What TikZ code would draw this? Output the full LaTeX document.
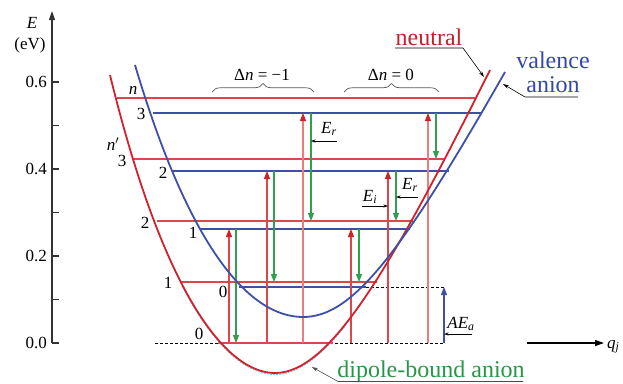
\documentclass[tikz,border=0pt]{standalone}
\usepackage{fontspec}
\setmainfont{Liberation Serif}
\usetikzlibrary{arrows.meta,decorations.pathreplacing}
\definecolor{nred}{RGB}{208,34,44}
\definecolor{lred}{RGB}{222,70,76}
\definecolor{pred}{RGB}{234,125,125}
\definecolor{vblue}{RGB}{62,80,165}
\definecolor{dgreen}{RGB}{48,160,78}
\definecolor{cyanl}{RGB}{120,200,225}
\definecolor{tred}{RGB}{196,32,46}
\definecolor{tblue}{RGB}{52,72,165}
\definecolor{tgreen}{RGB}{40,150,72}
\definecolor{axgray}{RGB}{50,50,50}
\begin{document}
\begin{tikzpicture}[x=1pt,y=-1pt,
  curve/.style={line width=1.8pt,line join=round},
  lvl/.style={line width=1.1pt},
  uparrow/.style={line width=1.1pt,-{Triangle[length=8pt,width=6pt]}},
  redtip/.style={-{Triangle[length=8pt,width=6pt,fill=nred,color=nred]}},
  lab/.style={font=\fontsize{17}{19}\selectfont,inner sep=0pt},
  big/.style={font=\fontsize{24}{27}\selectfont,inner sep=0pt},
  ptr/.style={line width=0.6pt,-{Stealth[length=6pt,width=3.5pt]}},
  smallptr/.style={line width=0.6pt,-{Stealth[length=4.5pt,width=3pt]}},
  dsh/.style={line width=0.7pt,dash pattern=on 3pt off 2pt}
]
\useasboundingbox (0,0) rectangle (623,383);

% ---------- levels (coordinates) ----------
\coordinate (R0) at (0,343);
\coordinate (R1) at (0,282);
\coordinate (R2) at (0,221);
\coordinate (R3) at (0,159);
\coordinate (Rn) at (0,98);
\coordinate (B0) at (0,287);
\coordinate (B1) at (0,229);
\coordinate (B2) at (0,171);
\coordinate (B3) at (0,113);

% ---------- axes ----------
\coordinate (ybot) at (52,343);
\coordinate (ytop) at (52,11);
\draw[axgray,line width=1.2pt,-{Triangle[length=9pt,width=6pt]}] (ybot) -- (ytop);
\foreach \yy in {343,299.5,256,212.5,169,125.5,82}
  \draw[axgray,line width=1.1pt] (52,\yy) -- (59,\yy);
\node[lab] (t0) [anchor=east] at (47,343) {0.0};
\node[lab] (t2) [anchor=east] at (47,256) {0.2};
\node[lab] (t4) [anchor=east] at (47,169) {0.4};
\node[lab] (t6) [anchor=east] at (47,82) {0.6};
\node[lab] (Elab) at (32,23) {\textit{E}};
\node[lab] (eV) at (30,45) {(eV)};

\coordinate (xa) at (527,343);
\coordinate (xb) at (604,343);
\draw[black,line width=1.2pt,-{Triangle[length=9pt,width=6pt]}] (xa) -- (xb);
\node[lab,anchor=base west] (qj) at (607,348) {\textit{q}\textsubscript{\textit{j}}};

% ---------- dashed references ----------
\coordinate (d0a) at (155,343);
\coordinate (d0b) at (445,343);
\coordinate (d1a) at (366,287);
\coordinate (d1b) at (445,287);
\draw[dsh] (d0a) -- (d0b);
\draw[dsh] (d1a) -- (d1b);

% ---------- level lines ----------
\coordinate (Rnl) at (117,98);  \coordinate (Rnr) at (475,98);
\coordinate (R3l) at (133,159); \coordinate (R3r) at (445,159);
\coordinate (R2l) at (157,221); \coordinate (R2r) at (413,221);
\coordinate (R1l) at (180,282); \coordinate (R1r) at (377,282);
\coordinate (R0l) at (218,343); \coordinate (R0r) at (333,343);
\coordinate (B3l) at (153,113); \coordinate (B3r) at (481,113);
\coordinate (B2l) at (172,171); \coordinate (B2r) at (449,171);
\coordinate (B1l) at (200,229); \coordinate (B1r) at (410,229);
\coordinate (B0l) at (239,287); \coordinate (B0r) at (366,287);
\foreach \a/\b in {Rnl/Rnr,R3l/R3r,R2l/R2r,R1l/R1r,R0l/R0r}
  \draw[lvl,lred] (\a) -- (\b);
\foreach \a/\b in {B3l/B3r,B2l/B2r,B1l/B1r,B0l/B0r}
  \draw[lvl,vblue] (\a) -- (\b);

% ---------- vertical transitions ----------
\coordinate (c1) at (229,0);
\coordinate (c2) at (267,0);
\coordinate (c3) at (303,0);
\coordinate (c4) at (351,0);
\coordinate (c5) at (388,0);
\coordinate (c6) at (428,0);
\coordinate (g1) at (236,0);
\coordinate (g2) at (274,0);
\coordinate (g3) at (311,0);
\coordinate (g4) at (359,0);
\coordinate (g5) at (396,0);
\coordinate (g6) at (436,0);
\coordinate (ae) at (444,0);

\draw[uparrow,lred,redtip] (c1 |- R0) -- (c1 |- B1);
\draw[uparrow,lred,redtip] (c2 |- R0) -- (c2 |- B2);
\draw[uparrow,pred,redtip] (c3 |- R0) -- (c3 |- B3);
\draw[uparrow,lred,redtip] (c4 |- R0) -- (c4 |- B1);
\draw[uparrow,lred,redtip] (c5 |- R0) -- (c5 |- B2);
\draw[uparrow,pred,redtip] (c6 |- R0) -- (c6 |- B3);

\draw[uparrow,dgreen] (g1 |- B1) -- (g1 |- R0);
\draw[uparrow,dgreen] (g2 |- B2) -- (g2 |- R1);
\draw[uparrow,dgreen] (g3 |- B3) -- (g3 |- R2);
\draw[uparrow,dgreen] (g4 |- B1) -- (g4 |- R1);
\draw[uparrow,dgreen] (g5 |- B2) -- (g5 |- R2);
\draw[uparrow,dgreen] (g6 |- B3) -- (g6 |- R3);

\draw[uparrow,vblue] (ae |- R0) -- (ae |- B0);

% ---------- potential curves ----------
\begin{scope}
  \clip (170,285) rectangle (345,383);
  \draw[cyanl,line width=0.9pt,dash pattern=on 2pt off 1pt,yshift=-1.5pt]
    (110,75) .. controls (165,300) and (228,373) .. (275,373)
    .. controls (330,373) and (390,270) .. (490,70);
\end{scope}
\draw[curve,nred] (110,75) .. controls (165,300) and (228,373) .. (275,373)
  .. controls (330,373) and (390,270) .. (490,70);
\draw[curve,vblue] (135,65) .. controls (190,250) and (250,317) .. (303,317)
  .. controls (350,317) and (397,262) .. (505,72);

% ---------- level labels ----------
\node[lab] (ln) at (133,90) {\textit{n}};
\node[lab] (lb3) at (141,114) {3};
\node[lab] (lnp) at (113,144) {\textit{n}$'$};
\node[lab] (lr3) at (122,161) {3};
\node[lab] (lb2) at (163,173) {2};
\node[lab] (lr2) at (145,223) {2};
\node[lab] (lb1) at (193,233) {1};
\node[lab] (lr1) at (168,283) {1};
\node[lab] (lb0) at (223,292) {0};
\node[lab] (lr0) at (199,334) {0};

% ---------- braces ----------
\coordinate (br1a) at (212,92); \coordinate (br1b) at (314,92);
\coordinate (br2a) at (344,92); \coordinate (br2b) at (439,92);
\draw[decorate,decoration={brace,amplitude=8.5pt},black!65,line width=0.7pt] (br1a) -- (br1b);
\draw[decorate,decoration={brace,amplitude=8.5pt},black!65,line width=0.7pt] (br2a) -- (br2b);
\node[lab,anchor=base] (dn1) at (262,80) {Δ\textit{n} = −1};
\node[lab,anchor=base] (dn0) at (391,80) {Δ\textit{n} = 0};

% ---------- energy labels ----------
\node[lab] (Er1) at (329,129) {\textit{E}\textsubscript{\textit{r}}};
\coordinate (er1a) at (337,141);
\draw[smallptr] (er1a) -- (g3 |- er1a);
\node[lab] (Ei) at (370,197) {\textit{E}\textsubscript{\textit{i}}};
\coordinate (eia) at (362,206);
\draw[smallptr] (eia) -- (c5 |- eia);
\node[lab] (Er2) at (410,185) {\textit{E}\textsubscript{\textit{r}}};
\coordinate (er2a) at (418,197);
\draw[smallptr] (er2a) -- (g5 |- er2a);
\node[lab] (AEa) at (461,324) {\textit{AE}\textsubscript{\textit{a}}};
\coordinate (aea) at (472,334);
\draw[smallptr] (aea) -- (ae |- aea);

% ---------- curve names ----------
\node[big,anchor=base,text=tred] (neutral) at (429,45) {neutral};
\coordinate (nu1) at (395,48); \coordinate (nu2) at (463,48); \coordinate (nu3) at (484,77);
\draw[ptr] (nu1) -- (nu2) -- (nu3);

\node[big,anchor=base,text=tblue] (val) at (553,68) {valence};
\node[big,anchor=base,text=tblue] (anion) at (553,92) {anion};
\coordinate (va1) at (578,97); \coordinate (va2) at (525,97); \coordinate (va3) at (503,84);
\draw[ptr] (va1) -- (va2) -- (va3);

\node[big,anchor=base,text=tgreen] (dba) at (431,377) {dipole-bound anion};
\coordinate (db1) at (523,381.5); \coordinate (db2) at (338,381.5); \coordinate (db3) at (312,367);
\draw[ptr,black!70] (db1) -- (db2) -- (db3);
\end{tikzpicture}
\end{document}
